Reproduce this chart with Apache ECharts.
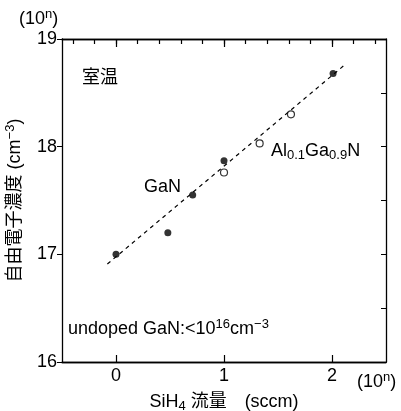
<!DOCTYPE html>
<html><head><meta charset="utf-8">
<script src="https://cdn.jsdelivr.net/npm/echarts@6/dist/echarts.min.js"></script>
<style>html,body{margin:0;padding:0;background:#fff}#c{width:401px;height:411px}</style>
</head><body><div id="c"></div>
<script>
var FONT = '"Liberation Sans", Arial, "Noto Sans CJK JP", sans-serif';
var xTickLabels = [0, 1, 2];
var yTickLabels = [16, 17, 18, 19];
var ganFilled = [[0, 17.0], [0.48, 17.2], [0.71, 17.55], [1.0, 17.87], [2.01, 18.68]];
var alganOpen = [[1.0, 17.76], [1.33, 18.03], [1.62, 18.30]];
var fitLine = [[-0.08, 16.91], [2.13, 18.77]];
// tenths from -0.5 to 2.5 used as tick slots for the frame axes
var tenths = [];
for (var i = -5; i <= 25; i++) tenths.push(String(i));

var TICK = '#000';
var chart = echarts.init(document.getElementById('c'), null, {renderer:'canvas'});
var LINE = {color:'#000', width:1.3};
var SUP = {fontSize:13, verticalAlign:'top', padding:[0,0,9,0], fontFamily:FONT};
var SUB = {fontSize:13, verticalAlign:'bottom', padding:[9,0,0,0], fontFamily:FONT};
function tickAxis(grid, pos, len, test) {
  return {type:'category', gridIndex:grid, position:pos, data:tenths, boundaryGap:false,
    axisLine:{show:true, onZero:false, lineStyle:LINE}, splitLine:{show:false},
    axisLabel:{show:true, formatter:function(){ return ''; }},
    axisTick:{show:true, inside:true, length:len, lineStyle:{color:TICK, width:1.2},
      interval:function(idx, val){ return test(parseInt(val, 10)); }}};
}
function gridBox() {
  return {left:62, top:39, right:15, bottom:49, containLabel:false, outerBoundsMode:'none'};
}
chart.setOption({
  animation:false,
  backgroundColor:'#fff',
  textStyle:{fontFamily:FONT, color:'#000'},
  grid:[gridBox(), gridBox()],
  xAxis:[
    {type:'value', gridIndex:0, position:'bottom', min:-0.5, max:2.5, interval:0.5,
     axisLine:{show:true, onZero:false, lineStyle:LINE}, splitLine:{show:false},
     axisTick:{show:false},
     axisLabel:{fontSize:18, color:'#000', fontFamily:FONT, margin:5,
       formatter:function(v){ return xTickLabels.indexOf(v) >= 0 ? String(v) : ''; }},
     name:'SiH{sub|4} 流量　(sccm)', nameLocation:'middle', nameGap:29,
     nameTextStyle:{fontSize:18, color:'#000', fontFamily:FONT, rich:{sub:SUB}}},
    tickAxis(0, 'top', 5, function(t){ return t % 2 === 0; }),
    tickAxis(1, 'bottom', 7, function(t){ return t % 10 === 0; }),
    tickAxis(1, 'top', 8, function(t){ return t % 10 === 0; })
  ],
  yAxis:[
    {type:'value', gridIndex:0, position:'left', min:16, max:19, interval:1,
     axisLine:{show:true, onZero:false, lineStyle:LINE}, splitLine:{show:false},
     axisTick:{show:true, inside:false, length:5, lineStyle:{color:TICK}},
     axisLabel:{fontSize:18, color:'#000', fontFamily:FONT, margin:5},
     name:'自由電子濃度 (cm{sup|−3})', nameLocation:'middle', nameGap:36, nameRotate:90,
     nameTextStyle:{fontSize:18, color:'#000', fontFamily:FONT, rich:{sup:SUP}}},
    {type:'value', gridIndex:0, position:'right', min:16, max:19, interval:0.5,
     axisLine:{show:true, onZero:false, lineStyle:LINE}, splitLine:{show:false},
     axisLabel:{show:true, formatter:function(){ return ''; }},
     axisTick:{show:true, inside:true, length:5, lineStyle:{color:TICK}}},
    {type:'value', gridIndex:1, min:16, max:19, show:false}
  ],
  series:[
    {type:'line', xAxisIndex:0, yAxisIndex:0, data:fitLine, symbol:'none',
     lineStyle:{color:'#000', width:1.2, type:[4,4]}, z:1},
    {type:'scatter', xAxisIndex:0, yAxisIndex:0, data:ganFilled, symbol:'circle', symbolSize:7,
     itemStyle:{color:'#000', borderColor:'#000', borderWidth:0}, z:3},
    {type:'scatter', xAxisIndex:0, yAxisIndex:0, data:alganOpen, symbol:'circle', symbolSize:7,
     itemStyle:{color:'#fff', borderColor:'#000', borderWidth:1.2}, z:3}
  ],
  graphic:[
    {type:'text', left:19, top:8, style:{text:'(10{sup|n})', font:'18px '+FONT, fill:'#000', rich:{sup:SUP}}},
    {type:'text', left:357, top:371, style:{text:'(10{sup|n})', font:'18px '+FONT, fill:'#000', rich:{sup:SUP}}},
    {type:'text', left:82, top:67, style:{text:'室温', font:'18px "Noto Sans CJK JP"', fill:'#000'}},
    {type:'text', left:144, top:178, style:{text:'GaN', font:'18px '+FONT, fill:'#000'}},
    {type:'text', left:271, top:142, style:{text:'Al{sub|0.1}Ga{sub|0.9}N', font:'18px '+FONT, fill:'#000', rich:{sub:SUB}}},
    {type:'text', left:68, top:318, style:{text:'undoped GaN:<10{sup|16}cm{sup|−3}', font:'18px '+FONT, fill:'#000', rich:{sup:SUP}}}
  ]
});
</script></body></html>
